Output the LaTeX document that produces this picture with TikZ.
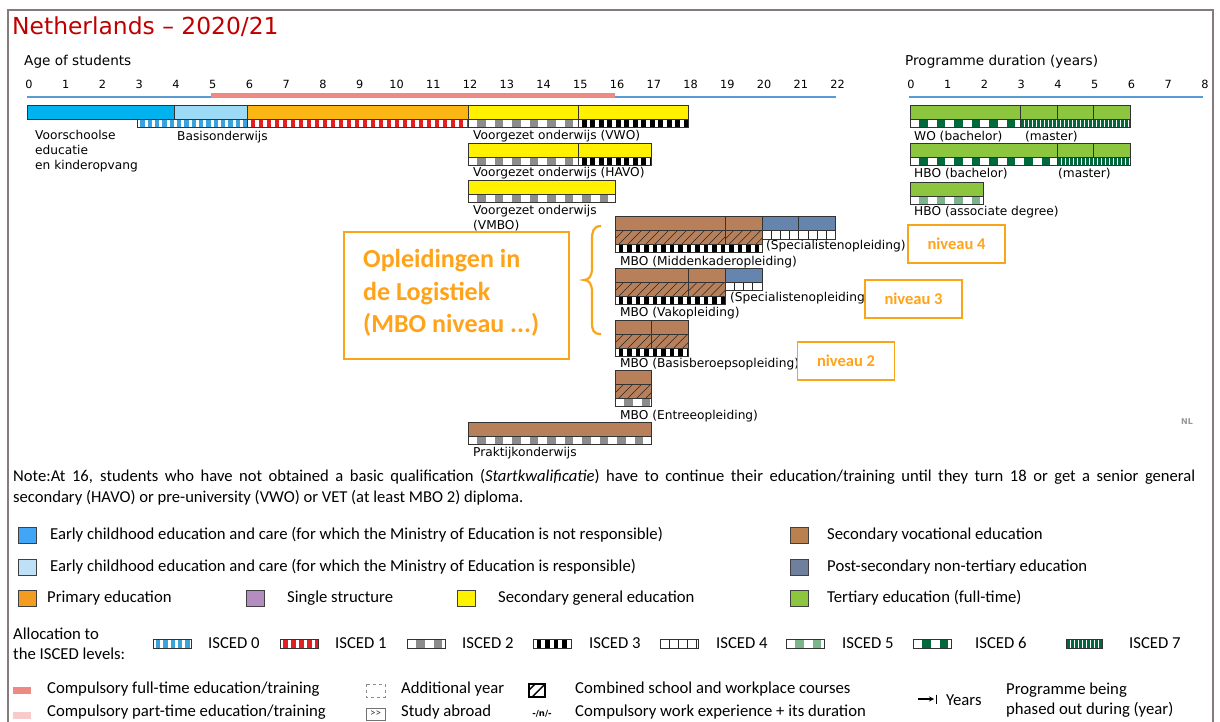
\documentclass[tikz,border=0pt]{standalone}
\usepackage{fontspec}
\setmainfont{DejaVu Sans}
\newfontfamily\legf{Carlito}
\usetikzlibrary{arrows.meta}
\definecolor{titlered}{HTML}{C00000}
\definecolor{ecA}{HTML}{00B2EE}
\definecolor{ecB}{HTML}{9DDAF5}
\definecolor{prim}{HTML}{FBB614}
\definecolor{secg}{HTML}{FFF100}
\definecolor{voc}{HTML}{B8805A}
\definecolor{pst}{HTML}{6584AE}
\definecolor{tert}{HTML}{8CC63F}
\definecolor{lgA}{HTML}{42A5F5}
\definecolor{lgB}{HTML}{BFE1F8}
\definecolor{lgprim}{HTML}{F39C1F}
\definecolor{lgpurp}{HTML}{B38DBF}
\definecolor{lgsecg}{HTML}{FFF200}
\definecolor{lgvoc}{HTML}{B98150}
\definecolor{lgpst}{HTML}{6E809E}
\definecolor{iscz}{HTML}{3BA3DB}
\definecolor{isco}{HTML}{E31E24}
\definecolor{isct}{HTML}{8C8C8C}
\definecolor{iscf}{HTML}{7DB58A}
\definecolor{iscs}{HTML}{00693E}
\definecolor{compred}{HTML}{EE8983}
\definecolor{comppink}{HTML}{F9CACA}
\definecolor{axisblue}{HTML}{5B9BD5}
\definecolor{orbox}{HTML}{F7A519}
\definecolor{ortext}{HTML}{FFA31A}
\definecolor{framec}{HTML}{857A7C}
\tikzset{
  bo/.style={draw=black!80, line width=0.7pt},
  lab/.style={anchor=west, inner sep=0pt, font=\fontsize{12.2}{15}\selectfont, align=left},
  num/.style={inner sep=0pt, font=\fontsize{11.3}{12}\selectfont},
  leg/.style={anchor=west, inner sep=0pt, font=\legf\fontsize{16.7}{20}\selectfont, align=left},
  sq/.style={draw=black!75, line width=0.9pt, minimum width=18pt, minimum height=16pt, inner sep=0pt},
  nbox/.style={draw=orbox, line width=1.8pt, fill=white, text=ortext, font=\legf\bfseries\fontsize{16.5}{18}\selectfont, minimum width=97pt, minimum height=38pt, inner sep=0pt},
}
% x1 x2 y1 y2 colour
\newcommand\cbar[5]{\fill[#5] (#1,#3) rectangle (#2,#4); \draw[bo] (#1,#3) rectangle (#2,#4);}
% x1 x2 y1 y2 colour period width offset
\newcommand\blocks[8]{%
  \begin{scope}
  \clip (#1,#3) rectangle (#2,#4);
  \fill[white] (#1,#3) rectangle (#2,#4);
  \pgfmathtruncatemacro\nb{ceil((#2-#1)/#6)+1}
  \foreach \i in {0,...,\nb}{\fill[#5] ({#1+#8+\i*#6},#3) rectangle ({#1+#8+\i*#6+#7},#4);}
  \end{scope}
  \draw[bo] (#1,#3) rectangle (#2,#4);}
\newcommand\iscA[4]{\blocks{#1}{#2}{#3}{#4}{iscz}{7.35}{4.4}{2.9}}
\newcommand\iscB[4]{\blocks{#1}{#2}{#3}{#4}{isco}{8}{4.6}{3.2}}
\newcommand\iscC[4]{\blocks{#1}{#2}{#3}{#4}{isct}{17.5}{8.5}{9}}
\newcommand\iscD[4]{\blocks{#1}{#2}{#3}{#4}{black}{8.5}{4.6}{3.7}}
\newcommand\iscE[4]{\blocks{#1}{#2}{#3}{#4}{black!85}{9.19}{0.8}{8.8}}
\newcommand\iscF[4]{\blocks{#1}{#2}{#3}{#4}{iscf}{17.5}{8.5}{9}}
\newcommand\iscG[4]{\blocks{#1}{#2}{#3}{#4}{iscs}{17.5}{8.5}{9}}
\newcommand\iscH[4]{\blocks{#1}{#2}{#3}{#4}{iscs}{4}{2.6}{1.2}}
% hatched brown band
\newcommand\hatchb[4]{%
  \fill[voc] (#1,#3) rectangle (#2,#4);
  \begin{scope}
  \clip (#1,#3) rectangle (#2,#4);
  \pgfmathtruncatemacro\nh{ceil((#2-#1)/9)+3}
  \foreach \i in {0,...,\nh}{\draw[line width=0.5pt, black!85] ({#1-14+\i*9},#4) -- ++(14,-14);}
  \end{scope}
  \draw[bo] (#1,#3) rectangle (#2,#4);}
\begin{document}
\begin{tikzpicture}[x=1pt,y=-1pt]
\useasboundingbox (0,0) rectangle (1220,722);
\fill[white] (0,0) rectangle (1220,722);
% frame
\draw[framec, line width=1.5pt] (8,724) -- (8,10) -- (1213,10) -- (1213,724);
% title
\node[anchor=west, inner sep=0pt, text=titlered, font=\fontsize{23.4}{27}\selectfont] (title) at (12,27) {Netherlands – 2020/21};
% age axis
\node[anchor=west, inner sep=0pt, font=\fontsize{13.6}{16}\selectfont] (agetitle) at (24,62) {Age of students};
\foreach \a in {0,...,22}{\node[num] (age\a) at ({29+36.75*\a},84.5) {\a};}
\draw[axisblue, line width=1.2pt] (27,97) -- (835.5,97);
\draw[compred, line width=4.5pt] (210.75,95.5) -- (615,95.5);
% duration axis
\node[anchor=west, inner sep=0pt, font=\fontsize{13.6}{16}\selectfont] (durtitle) at (905,62) {Programme duration (years)};
\foreach \a in {0,...,8}{\node[num] (dur\a) at ({911+36.75*\a},84.5) {\a};}
\draw[axisblue, line width=1.2pt] (909,97) -- (1203,97);

% row 1
\cbar{27}{174}{105}{119}{ecA}
\cbar{174}{247.5}{105}{119}{ecB}
\cbar{247.5}{468}{105}{119}{prim}
\cbar{468}{578.25}{105}{119}{secg}
\cbar{578.25}{688.5}{105}{119}{secg}
\iscA{137.25}{247.5}{119}{127}
\iscB{247.5}{468}{119}{127}
\iscC{468}{578.25}{119}{127}
\iscD{578.25}{688.5}{119}{127}
\node[lab] (voorsch) at (35,151.5) {Voorschoolse\\educatie\\en kinderopvang};
\node[lab] (basis) at (177,137) {Basisonderwijs};
\node[lab] (vwo) at (473,136.5) {Voorgezet onderwijs (VWO)};
% HAVO
\cbar{468}{578.25}{143}{157}{secg}
\cbar{578.25}{651.75}{143}{157}{secg}
\iscC{468}{578.25}{157}{165}
\iscD{578.25}{651.75}{157}{165}
\node[lab] (havo) at (473,173.5) {Voorgezet onderwijs (HAVO)};
% VMBO
\cbar{468}{615}{180}{194}{secg}
\iscC{468}{615}{194}{202}
\node[lab] (vmbo) at (473,218) {Voorgezet onderwijs\\(VMBO)};
% MBO middenkader
\cbar{615}{725.25}{216}{230}{voc}
\cbar{725.25}{762}{216}{230}{voc}
\hatchb{615}{725.25}{230}{244}
\hatchb{725.25}{762}{230}{244}
\iscD{615}{762}{244}{252}
\cbar{762}{798.75}{216}{230}{pst}
\cbar{798.75}{835.5}{216}{230}{pst}
\iscE{762}{835.5}{230}{239}
\node[lab] (spec1) at (766,246) {(Specialistenopleiding)};
\node[lab] (midden) at (620,262) {MBO (Middenkaderopleiding)};
% MBO vak
\cbar{615}{688.5}{268}{282}{voc}
\cbar{688.5}{725.25}{268}{282}{voc}
\hatchb{615}{688.5}{282}{296}
\hatchb{688.5}{725.25}{282}{296}
\iscD{615}{725.25}{296}{304}
\cbar{725.25}{762}{268}{282}{pst}
\iscE{725.25}{762}{282}{290}
\node[lab] (spec2) at (730,298) {(Specialistenopleiding};
\node[lab] (vak) at (620,313) {MBO (Vakopleiding)};
% MBO basis
\cbar{615}{651.75}{320}{334}{voc}
\cbar{651.75}{688.5}{320}{334}{voc}
\hatchb{615}{651.75}{334}{348}
\hatchb{651.75}{688.5}{334}{348}
\iscD{615}{688.5}{348}{356}
\node[lab] (basisb) at (620,364) {MBO (Basisberoepsopleiding)};
% MBO entree
\cbar{615}{651.75}{370}{384}{voc}
\hatchb{615}{651.75}{384}{398}
\iscC{615}{651.75}{398}{406}
\node[lab] (entree) at (620,416) {MBO (Entreeopleiding)};
% praktijk
\cbar{468}{651.75}{422}{436}{voc}
\iscC{468}{651.75}{436}{444}
\node[lab] (prak) at (473,453) {Praktijkonderwijs};

% tertiary
\cbar{910}{1020.25}{105}{119}{tert}
\cbar{1020.25}{1057}{105}{119}{tert}
\cbar{1057}{1093.75}{105}{119}{tert}
\cbar{1093.75}{1130.5}{105}{119}{tert}
\iscG{910}{1020.25}{119}{127}
\iscH{1020.25}{1130.5}{119}{127}
\node[lab] (wob) at (914,136.5) {WO (bachelor)};
\node[lab] (wom) at (1025,136.5) {(master)};
\cbar{910}{1057}{143}{157}{tert}
\cbar{1057}{1093.75}{143}{157}{tert}
\cbar{1093.75}{1130.5}{143}{157}{tert}
\iscG{910}{1057}{157}{165}
\iscH{1057}{1130.5}{157}{165}
\node[lab] (hbob) at (914,173.5) {HBO (bachelor)};
\node[lab] (hbom) at (1058,173.5) {(master)};
\cbar{910}{983.5}{182}{196}{tert}
\iscF{910}{983.5}{196}{204}
\node[lab] (hboad) at (914,212) {HBO (associate degree)};

% orange annotations
\node[draw=orbox, line width=1.8pt, minimum width=225pt, minimum height=127pt, inner sep=0pt] (logbox) at (456.5,295.5) {};
\node[anchor=west, inner sep=0pt, text=ortext, align=left, font=\legf\bfseries\fontsize{26}{32.5}\selectfont] (logtxt) at (363,293) {Opleidingen in\\de Logistiek\\(MBO niveau ...)};
\draw[orbox, line width=2.2pt] (601,226) .. controls (593,226) and (592,232) .. (592,240) -- (592,268) .. controls (592,276) and (589,280) .. (584,280) .. controls (589,280) and (592,284) .. (592,292) -- (592,322) .. controls (592,330) and (593,334) .. (601,334);
\node[nbox] (niv4) at (956.5,244) {niveau 4};
\node[nbox] (niv3) at (913.5,299) {niveau 3};
\node[nbox] (niv2) at (846,361) {niveau 2};
\node[inner sep=0pt, text=black!40, font=\bfseries\fontsize{8}{9}\selectfont] (nl) at (1187,422) {NL};

% note
\node[anchor=west, inner sep=0pt, font=\legf\fontsize{16.6}{20}\selectfont] (note1) at (13,477) {\makebox[1182pt][s]{Note:At 16, students who have not obtained a basic qualification (\textit{Startkwalificatie}) have to continue their education/training until they turn 18 or get a senior general}};
\node[anchor=west, inner sep=0pt, font=\legf\fontsize{16.6}{20}\selectfont] (note2) at (13,498) {secondary (HAVO) or pre-university (VWO) or VET (at least MBO 2) diploma.};

% colour legend
\node[sq, fill=lgA] (lsqA) at (27,535) {};
\node[leg] (ltA) at (50,535) {Early childhood education and care (for which the Ministry of Education is not responsible)};
\node[sq, fill=lgB] (lsqB) at (27,567) {};
\node[leg] (ltB) at (50,567) {Early childhood education and care (for which the Ministry of Education is responsible)};
\node[sq, fill=lgprim] (lsqP) at (27,598) {};
\node[leg] (ltP) at (47,598) {Primary education};
\node[sq, fill=lgpurp] (lsqS) at (255.5,598) {};
\node[leg] (ltS) at (287,598) {Single structure};
\node[sq, fill=lgsecg] (lsqG) at (466,598) {};
\node[leg] (ltG) at (498,598) {Secondary general education};
\node[sq, fill=lgvoc] (lsqV) at (799,535) {};
\node[leg] (ltV) at (827,535) {Secondary vocational education};
\node[sq, fill=lgpst] (lsqN) at (799,567) {};
\node[leg] (ltN) at (827,567) {Post-secondary non-tertiary education};
\node[sq, fill=tert] (lsqT) at (799,598) {};
\node[leg] (ltT) at (827,598) {Tertiary education (full-time)};

% ISCED legend
\node[leg] (alloc) at (13,644) {Allocation to\\the ISCED levels:};
\iscA{153}{191}{639}{648}
\node[leg] (li0) at (208,643) {ISCED 0};
\iscB{280}{318}{639}{648}
\node[leg] (li1) at (335,643) {ISCED 1};
\iscC{407}{445}{639}{648}
\node[leg] (li2) at (462,643) {ISCED 2};
\iscD{533}{571}{639}{648}
\node[leg] (li3) at (589,643) {ISCED 3};
\iscE{660}{698}{639}{648}
\node[leg] (li4) at (716,643) {ISCED 4};
\iscF{786}{824}{639}{648}
\node[leg] (li5) at (842,643) {ISCED 5};
\iscG{913}{951}{639}{648}
\node[leg] (li6) at (975,643) {ISCED 6};
\iscH{1066}{1102}{639}{648}
\node[leg] (li7) at (1129,643) {ISCED 7};

% bottom legend
\fill[compred] (13,687) rectangle (31,694);
\node[leg] (lcf) at (47,689) {Compulsory full-time education/training};
\fill[comppink] (13,712) rectangle (31,719);
\node[leg] (lcp) at (47,712) {Compulsory part-time education/training};
\draw[black!45, dashed, line width=0.7pt] (366,684) rectangle (385,697);
\node[leg] (lay) at (401,689) {Additional year};
\node[draw=black!55, line width=0.7pt, minimum width=19pt, minimum height=12pt, inner sep=0pt, font=\legf\fontsize{11}{12}\selectfont, text=black!75] (sab) at (375.5,714) {{>}{>}};
\node[leg] (lsa) at (401,712) {Study abroad};
\begin{scope}
\clip (529,684) rectangle (545,697);
\draw[line width=1.4pt] (522,697) -- (535,684);
\draw[line width=1.4pt] (532,697) -- (545,684);
\end{scope}
\draw[line width=1.4pt] (529,684) rectangle (545,697);
\node[leg] (lcs) at (575,689) {Combined school and workplace courses};
\node[inner sep=0pt, font=\bfseries\fontsize{8.5}{10}\selectfont] (lwn) at (542,714) {-/n/-};
\node[leg] (lwe) at (575,712) {Compulsory work experience + its duration};
\coordinate (arrA) at (918,699);
\coordinate (arrB) at (934,699);
\draw[line width=1.2pt, -{Stealth[length=5pt,width=5pt]}] (arrA) -- (arrB);
\draw[line width=1.2pt] (936.5,694.5) -- (936.5,703.5);
\node[leg] (lyr) at (946,700) {Years};
\node[leg] (lpo) at (1006,700) {Programme being\\phased out during (year)};
\end{tikzpicture}
\end{document}
